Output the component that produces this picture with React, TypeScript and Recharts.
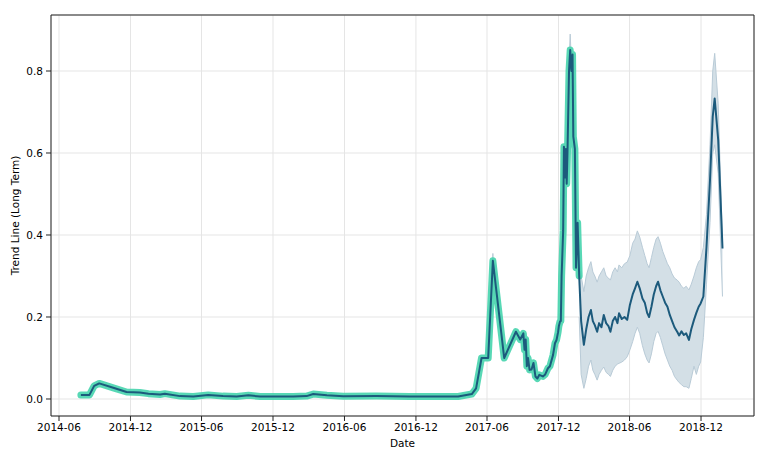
import React from 'react';
import { ComposedChart, Line, Area, XAxis, YAxis, CartesianGrid, ReferenceArea } from 'recharts';

// Historical trend (teal + dark line)
const histDates = [
  '2014-07-27', '2014-08-18', '2014-08-30', '2014-09-12', '2014-10-22', '2014-11-21', '2014-12-25',
  '2015-01-16', '2015-02-15', '2015-02-27', '2015-04-07', '2015-05-11', '2015-06-18', '2015-07-26',
  '2015-08-30', '2015-09-29', '2015-10-29', '2016-01-22', '2016-02-25', '2016-03-13', '2016-04-17',
  '2016-05-29', '2016-08-22', '2016-11-15', '2017-03-19', '2017-04-23', '2017-05-04', '2017-05-18',
  '2017-06-04', '2017-06-16', '2017-07-15', '2017-08-14', '2017-08-25', '2017-09-02', '2017-09-05',
  '2017-09-08', '2017-09-11', '2017-09-14', '2017-09-18', '2017-09-23', '2017-09-28', '2017-10-03',
  '2017-10-08', '2017-10-13', '2017-10-22', '2017-10-28', '2017-11-04', '2017-11-09', '2017-11-17',
  '2017-11-22', '2017-11-26', '2017-11-30', '2017-12-02', '2017-12-05', '2017-12-07', '2017-12-09',
  '2017-12-13', '2017-12-15', '2017-12-18', '2017-12-20', '2017-12-22', '2017-12-24', '2017-12-28',
  '2017-12-31', '2018-01-03', '2018-01-06', '2018-01-08', '2018-01-12', '2018-01-15', '2018-01-19',
  '2018-01-23',
];
const histTrend = [
  0.010, 0.010, 0.032, 0.038, 0.026, 0.017, 0.016,
  0.013, 0.011, 0.013, 0.007, 0.006, 0.010, 0.007,
  0.006, 0.009, 0.006, 0.006, 0.007, 0.012, 0.009,
  0.0065, 0.007, 0.006, 0.006, 0.012, 0.026, 0.100,
  0.100, 0.337, 0.100, 0.164, 0.145, 0.160, 0.120,
  0.145, 0.080, 0.100, 0.071, 0.072, 0.088, 0.055,
  0.050, 0.059, 0.055, 0.060, 0.075, 0.080, 0.107,
  0.136, 0.144, 0.163, 0.178, 0.189, 0.190, 0.300,
  0.410, 0.615, 0.540, 0.610, 0.525, 0.600, 0.800,
  0.851, 0.800, 0.840, 0.640, 0.610, 0.320, 0.430,
  0.300,
];

// Forecast trend with uncertainty interval
const fcDates = [
  '2018-01-23', '2018-01-28', '2018-02-04', '2018-02-10', '2018-02-16', '2018-02-22', '2018-02-27',
  '2018-03-04', '2018-03-10', '2018-03-15', '2018-03-21', '2018-03-27', '2018-04-02', '2018-04-08',
  '2018-04-13', '2018-04-19', '2018-04-25', '2018-05-01', '2018-05-05', '2018-05-12', '2018-05-19',
  '2018-05-26', '2018-06-02', '2018-06-09', '2018-06-15', '2018-06-21', '2018-06-27', '2018-07-04',
  '2018-07-10', '2018-07-16', '2018-07-21', '2018-07-27', '2018-08-02', '2018-08-08', '2018-08-13',
  '2018-08-19', '2018-08-25', '2018-08-31', '2018-09-06', '2018-09-12', '2018-09-18', '2018-09-24',
  '2018-10-01', '2018-10-06', '2018-10-12', '2018-10-18', '2018-10-24', '2018-10-31', '2018-11-06',
  '2018-11-13', '2018-11-19', '2018-11-25', '2018-11-30', '2018-12-07', '2018-12-15', '2018-12-24',
  '2018-12-31', '2019-01-05', '2019-01-14', '2019-01-25',
];
const fcTrend = [
  0.300, 0.190, 0.132, 0.170, 0.200, 0.217, 0.190,
  0.180, 0.164, 0.185, 0.175, 0.205, 0.185, 0.178,
  0.164, 0.190, 0.200, 0.185, 0.209, 0.195, 0.200,
  0.193, 0.230, 0.255, 0.270, 0.286, 0.270, 0.245,
  0.235, 0.210, 0.200, 0.225, 0.255, 0.275, 0.286,
  0.265, 0.250, 0.235, 0.225, 0.205, 0.190, 0.175,
  0.164, 0.155, 0.165, 0.156, 0.160, 0.144, 0.170,
  0.193, 0.210, 0.225, 0.233, 0.250, 0.370, 0.534,
  0.689, 0.733, 0.632, 0.367,
];
const fcLower = [
  0.200, 0.060, 0.026, 0.050, 0.080, 0.095, 0.070,
  0.060, 0.046, 0.060, 0.070, 0.078, 0.065, 0.060,
  0.055, 0.070, 0.080, 0.085, 0.087, 0.090, 0.095,
  0.103, 0.120, 0.140, 0.160, 0.175, 0.160, 0.130,
  0.110, 0.095, 0.088, 0.110, 0.140, 0.160, 0.165,
  0.150, 0.130, 0.110, 0.095, 0.080, 0.070, 0.055,
  0.046, 0.040, 0.035, 0.030, 0.030, 0.026, 0.050,
  0.080, 0.060, 0.080, 0.090, 0.150, 0.280, 0.430,
  0.600, 0.620, 0.550, 0.250,
];
const fcUpper = [
  0.360, 0.300, 0.262, 0.300, 0.320, 0.335, 0.310,
  0.300, 0.285, 0.300, 0.310, 0.320, 0.300, 0.295,
  0.290, 0.310, 0.320, 0.310, 0.327, 0.320, 0.330,
  0.334, 0.350, 0.380, 0.390, 0.410, 0.395, 0.370,
  0.350, 0.330, 0.320, 0.345, 0.370, 0.390, 0.396,
  0.380, 0.360, 0.345, 0.330, 0.320, 0.305, 0.295,
  0.290, 0.285, 0.275, 0.270, 0.275, 0.266, 0.280,
  0.300, 0.320, 0.335, 0.340, 0.370, 0.450, 0.620,
  0.800, 0.843, 0.720, 0.380,
];

// Interval tips visible above the historical peaks
const peakDates = ['2017-12-27', '2017-12-31', '2018-01-04'];
const peakLower = [0.780, 0.830, 0.780];
const peakUpper = [0.800, 0.890, 0.800];
const juneDates = ['2017-06-12', '2017-06-16', '2017-06-20'];
const juneLower = [0.250, 0.330, 0.250];
const juneUpper = [0.270, 0.355, 0.270];

const xTickDates = ['2014-06-01', '2014-12-01', '2015-06-01', '2015-12-01', '2016-06-01', '2016-12-01', '2017-06-01', '2017-12-01', '2018-06-01', '2018-12-01'];
const yTicks = [0, 0.2, 0.4, 0.6, 0.8];

const toT = (s: string) => Date.parse(s + 'T00:00:00Z');
const X_MIN = Date.parse('2014-05-11T12:00:00Z');
const X_MAX = Date.parse('2019-04-15T16:00:00Z');
const Y_MIN = -0.0415;
const Y_MAX = 0.9366;

const histRows = histDates.map((d, i) => ({ t: toT(d), v: histTrend[i] }));
const fcRows = fcDates.map((d, i) => ({ t: toT(d), v: fcTrend[i] }));
const trendRows = histRows.concat(fcRows.slice(1));
const bandRows = fcDates.map((d, i) => ({ t: toT(d), band: [fcLower[i], fcUpper[i]] }));
const peakRows = peakDates.map((d, i) => ({ t: toT(d), band: [peakLower[i], peakUpper[i]] }));
const juneRows = juneDates.map((d, i) => ({ t: toT(d), band: [juneLower[i], juneUpper[i]] }));
const xTicks = xTickDates.map(toT);

const FONT = 'DejaVu Sans';
const fmtX = (v: number) => {
  const d = new Date(v);
  return `${d.getUTCFullYear()}-${String(d.getUTCMonth() + 1).padStart(2, '0')}`;
};

const YLabel = () => (
  <text x={19} y={215.5} transform="rotate(-90 19 215.5)" textAnchor="middle" fontFamily={FONT} fontSize={10.5} fill="#000">
    Trend Line (Long Term)
  </text>
);
const XLabel = () => (
  <text x={402.5} y={447} textAnchor="middle" fontFamily={FONT} fontSize={10.5} fill="#000">
    Date
  </text>
);

export default function App() {
  return (
    <div style={{ position: 'absolute', left: 0, top: 0, width: 768, height: 461, background: '#fff' }}>
      <ComposedChart width={768} height={461} margin={{ top: 15, right: 14, bottom: 0, left: 0 }}>
        <CartesianGrid stroke="#e5e5e5" strokeWidth={1} />
        <XAxis
          dataKey="t"
          type="number"
          domain={[X_MIN, X_MAX]}
          allowDataOverflow
          ticks={xTicks}
          tickFormatter={fmtX}
          height={45}
          axisLine={false}
          tickLine={{ stroke: '#222' }}
          tickSize={5}
          tickMargin={3}
          tick={{ fontFamily: FONT, fontSize: 10.5, fill: '#000' }}
          label={<XLabel />}
        />
        <YAxis
          type="number"
          domain={[Y_MIN, Y_MAX]}
          allowDataOverflow
          ticks={yTicks}
          tickFormatter={(v: number) => v.toFixed(1)}
          width={51}
          axisLine={false}
          tickLine={{ stroke: '#222' }}
          tickSize={5}
          tickMargin={3}
          tick={{ fontFamily: FONT, fontSize: 10.5, fill: '#000' }}
          label={<YLabel />}
        />
        <Area data={juneRows} dataKey="band" type="linear" stroke="#b9cbd7" strokeWidth={1} fill="#d3dfe6" fillOpacity={1} isAnimationActive={false} dot={false} activeDot={false} />
        <Area data={peakRows} dataKey="band" type="linear" stroke="#b9cbd7" strokeWidth={1} fill="#d3dfe6" fillOpacity={1} isAnimationActive={false} dot={false} activeDot={false} />
        <Area data={bandRows} dataKey="band" type="linear" stroke="#b9cbd7" strokeWidth={1} fill="#d3dfe6" fillOpacity={1} isAnimationActive={false} dot={false} activeDot={false} />
        <Line data={histRows} dataKey="v" type="linear" stroke="#46d4ad" strokeOpacity={0.9} strokeWidth={7} strokeLinejoin="round" strokeLinecap="round" dot={false} activeDot={false} isAnimationActive={false} />
        <Line data={trendRows} dataKey="v" type="linear" stroke="#1c5a7c" strokeWidth={2} strokeLinejoin="round" dot={false} activeDot={false} isAnimationActive={false} />
        <ReferenceArea x1={X_MIN} x2={X_MAX} y1={Y_MIN} y2={Y_MAX} fill="none" fillOpacity={0} stroke="#222" strokeWidth={1} ifOverflow="visible" />
      </ComposedChart>
    </div>
  );
}
